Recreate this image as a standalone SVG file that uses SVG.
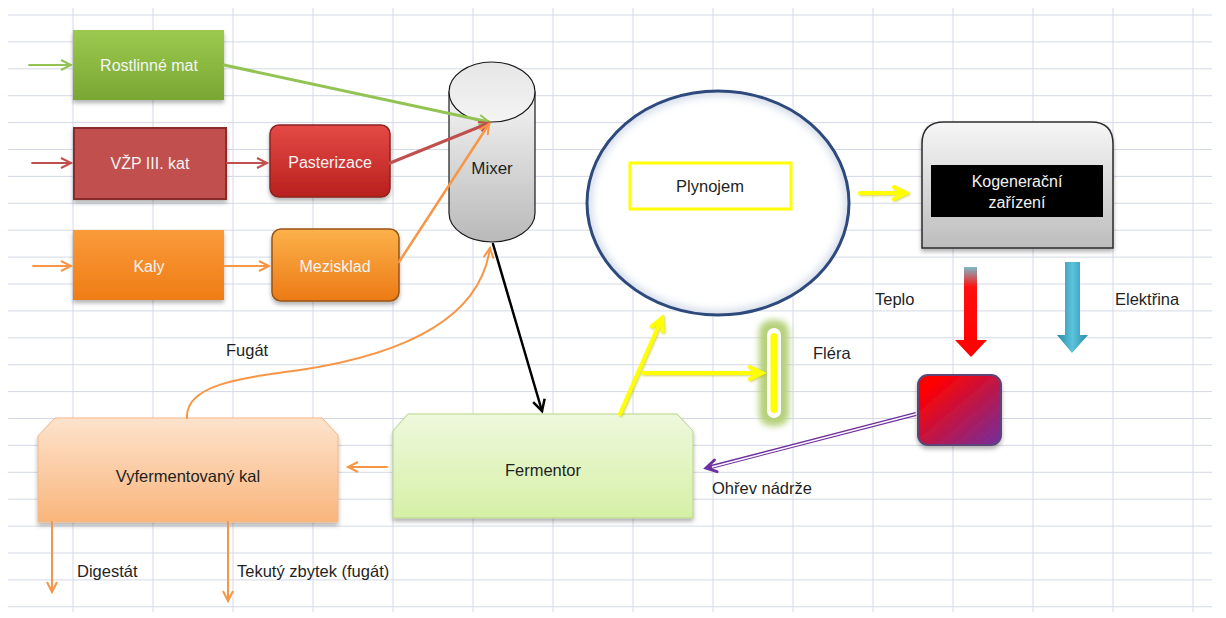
<svg xmlns="http://www.w3.org/2000/svg" width="1226" height="618" viewBox="0 0 1226 618">
<style>
.grid{stroke:#d3d9e6;stroke-width:1;fill:none}
.lbl{font-family:"Liberation Sans",Arial,sans-serif;font-size:16.5px;fill:#1f1f1f;text-anchor:middle;dominant-baseline:central}
.wt{font-family:"Liberation Sans",Arial,sans-serif;font-size:16px;fill:#f4f4f4;text-anchor:middle;dominant-baseline:central}
.free{font-family:"Liberation Sans",Arial,sans-serif;font-size:16.5px;fill:#1f1f1f;dominant-baseline:central}
</style>
<defs>
<filter id="sh" x="-10%" y="-10%" width="120%" height="130%"><feDropShadow dx="0" dy="3" stdDeviation="2" flood-color="#000" flood-opacity="0.3"/></filter>
<filter id="glow" x="-100%" y="-30%" width="300%" height="160%"><feGaussianBlur stdDeviation="3"/></filter>
<filter id="yg" filterUnits="userSpaceOnUse" x="600" y="170" width="340" height="260"><feDropShadow dx="1" dy="1" stdDeviation="1" flood-color="#b5b500" flood-opacity="0.6"/></filter>
<filter id="inner" x="-5%" y="-5%" width="110%" height="110%"><feGaussianBlur stdDeviation="4"/></filter>
<linearGradient id="gGreen" x1="0" y1="0" x2="0" y2="1"><stop offset="0" stop-color="#9cc94e"/><stop offset="1" stop-color="#78a733"/></linearGradient>
<linearGradient id="gRed" x1="0" y1="0" x2="0" y2="1"><stop offset="0" stop-color="#e54a46"/><stop offset="1" stop-color="#b8201e"/></linearGradient>
<linearGradient id="gOr" x1="0" y1="0" x2="0" y2="1"><stop offset="0" stop-color="#fa9a3a"/><stop offset="1" stop-color="#ef7d16"/></linearGradient>
<linearGradient id="gOr2" x1="0" y1="0" x2="0" y2="1"><stop offset="0" stop-color="#fcb24a"/><stop offset="1" stop-color="#ec7a15"/></linearGradient>
<linearGradient id="gCyl" x1="0" y1="0" x2="0" y2="1"><stop offset="0" stop-color="#f4f4f4"/><stop offset="1" stop-color="#b9b9b9"/></linearGradient>
<linearGradient id="gCylTop" x1="0" y1="0" x2="0" y2="1"><stop offset="0" stop-color="#e6e6e6"/><stop offset="1" stop-color="#f4f4f4"/></linearGradient>
<linearGradient id="gKog" x1="0" y1="0" x2="0" y2="1"><stop offset="0" stop-color="#f6f6f6"/><stop offset="1" stop-color="#bdbdbd"/></linearGradient>
<linearGradient id="gFer" x1="0" y1="0" x2="0" y2="1"><stop offset="0" stop-color="#eef8dc"/><stop offset="1" stop-color="#d6f0a6"/></linearGradient>
<linearGradient id="gVyf" x1="0" y1="0" x2="0" y2="1"><stop offset="0" stop-color="#fde3cc"/><stop offset="1" stop-color="#f9b57c"/></linearGradient>
<linearGradient id="gHeat" x1="0" y1="0" x2="1" y2="1"><stop offset="0.15" stop-color="#ff0000"/><stop offset="1" stop-color="#7030a0"/></linearGradient>
<linearGradient id="gTeplo" x1="0" y1="0" x2="0" y2="1"><stop offset="0" stop-color="#7fb9c8"/><stop offset="0.22" stop-color="#ff1010"/><stop offset="1" stop-color="#ff0000"/></linearGradient>
<linearGradient id="gEl" x1="0" y1="0" x2="1" y2="0"><stop offset="0" stop-color="#2a8aa6"/><stop offset="0.5" stop-color="#5cc3dc"/><stop offset="1" stop-color="#2a8aa6"/></linearGradient>
<marker id="mGreen" markerUnits="userSpaceOnUse" markerWidth="16" markerHeight="16" refX="11" refY="6" orient="auto"><path d="M1,1 L11,6 L1,11" fill="none" stroke="#92c353" stroke-width="2"/></marker>
<marker id="mRed" markerUnits="userSpaceOnUse" markerWidth="16" markerHeight="16" refX="11" refY="6" orient="auto"><path d="M1,1 L11,6 L1,11" fill="none" stroke="#c0504d" stroke-width="2"/></marker>
<marker id="mOr" markerUnits="userSpaceOnUse" markerWidth="16" markerHeight="16" refX="11" refY="6" orient="auto"><path d="M1,1 L11,6 L1,11" fill="none" stroke="#f79646" stroke-width="2"/></marker>
<marker id="mBlk" markerUnits="userSpaceOnUse" markerWidth="18" markerHeight="18" refX="12" refY="7" orient="auto"><path d="M1,1 L12,7 L1,13" fill="none" stroke="#000" stroke-width="2.5"/></marker>
<marker id="mYel" markerUnits="userSpaceOnUse" markerWidth="20" markerHeight="20" refX="14" refY="8" orient="auto"><path d="M2,2 L14,8 L2,14" fill="none" stroke="#ffff00" stroke-width="4" stroke-linecap="round"/></marker>
<marker id="mPur" markerUnits="userSpaceOnUse" markerWidth="18" markerHeight="18" refX="12" refY="8" orient="auto"><path d="M2,2 L12,8 L2,14" fill="none" stroke="#7030a0" stroke-width="3" stroke-linecap="round"/></marker>
<clipPath id="ellClip"><ellipse cx="718" cy="203" rx="131" ry="112"/></clipPath>
</defs>

<rect width="1226" height="618" fill="#ffffff"/>
<g id="grid">
<path class="grid" d="M8,15H1212M8,41.9H1212M8,68.8H1212M8,95.7H1212M8,122.6H1212M8,149.5H1212M8,176.4H1212M8,203.3H1212M8,230.2H1212M8,257.1H1212M8,284H1212M8,310.9H1212M8,337.8H1212M8,364.7H1212M8,391.6H1212M8,418.5H1212M8,445.4H1212M8,472.3H1212M8,499.2H1212M8,526.1H1212M8,553H1212M8,579.9H1212M8,606.8H1212"/>
<path class="grid" d="M73,8V612M153,8V612M233,8V612M313,8V612M393,8V612M473,8V612M553,8V612M633,8V612M713,8V612M793,8V612M873,8V612M953,8V612M1033,8V612M1113,8V612M1193,8V612"/>
</g>

<g id="rostlinne"><rect x="73" y="30" width="151" height="70" fill="url(#gGreen)" filter="url(#sh)"/><text class="wt" x="149" y="65">Rostlinné mat</text></g>
<g id="vzp"><rect x="74" y="128" width="152" height="71" fill="#c0504d" stroke="#8a2b29" stroke-width="2" filter="url(#sh)"/><text class="wt" x="150" y="163">VŽP III. kat</text></g>
<g id="pasterizace"><rect x="270" y="125" width="120" height="72" rx="9" fill="url(#gRed)" stroke="#8c2220" stroke-width="1.5" filter="url(#sh)"/><text class="wt" x="330" y="162">Pasterizace</text></g>
<g id="kaly"><rect x="73" y="230" width="151" height="70" fill="url(#gOr)" filter="url(#sh)"/><text class="wt" x="149" y="266">Kaly</text></g>
<g id="mezisklad"><rect x="272" y="229" width="127" height="72" rx="9" fill="url(#gOr2)" stroke="#9a5316" stroke-width="1.5" filter="url(#sh)"/><text class="wt" x="335" y="266">Mezisklad</text></g>

<g id="mixer">
<path d="M449,92 L449,213 A43,29 0 0 0 535,213 L535,92 Z" fill="url(#gCyl)" stroke="#1a1a1a" stroke-width="1.2"/>
<ellipse cx="492" cy="92" rx="43" ry="30" fill="url(#gCylTop)" stroke="#1a1a1a" stroke-width="1.2"/>
<text class="lbl" x="492" y="168" style="font-size:17px">Mixer</text>
</g>

<g id="plynojem">
<ellipse cx="718" cy="203" rx="131" ry="112" fill="#ffffff"/>
<ellipse cx="718" cy="203" rx="131" ry="112" fill="none" stroke="#c9d3e4" stroke-width="8" clip-path="url(#ellClip)" filter="url(#inner)"/>
<ellipse cx="718" cy="203" rx="131" ry="112" fill="none" stroke="#2e4a7d" stroke-width="3"/>
<rect x="630" y="163" width="161" height="46" fill="#ffffff" stroke="#ffff00" stroke-width="3"/>
<text class="lbl" x="710" y="186">Plynojem</text>
</g>

<g id="kogeneracni">
<path d="M922,248 L922,144 Q922,122 944,122 L1091,122 Q1113,122 1113,144 L1113,248 Z" fill="url(#gKog)" stroke="#2b2b2b" stroke-width="1.5" filter="url(#sh)"/>
<rect x="931" y="165" width="172" height="52" fill="#000000"/>
<text class="wt" x="1017" y="181">Kogenerační</text>
<text class="wt" x="1017" y="202">zařízení</text>
</g>

<g id="teplo-arrow"><path d="M964,267 L977,267 L977,340 L987,340 L971,357 L955,340 L964,340 Z" fill="url(#gTeplo)"/></g>
<g id="elektrina-arrow"><path d="M1065,262 L1080,262 L1080,335 L1088,335 L1072,353 L1057,335 L1065,335 Z" fill="url(#gEl)"/></g>

<g id="ohrev"><rect x="918" y="375" width="83" height="70" rx="10" fill="url(#gHeat)" stroke="#5d4478" stroke-width="2" filter="url(#sh)"/></g>

<g id="flera">
<rect x="759" y="320" width="30" height="106" rx="12" fill="#b5d07a" filter="url(#glow)"/>
<rect x="767" y="328" width="14" height="90" rx="7" fill="#ffffff"/>
<rect x="770.5" y="333" width="7" height="80" rx="3.5" fill="#ffff00"/>
</g>

<g id="fermentor"><path d="M393,431 L408,414 L677,414 L693,431 L693,518 L393,518 Z" fill="url(#gFer)" stroke="#b7d48a" stroke-width="1" filter="url(#sh)"/><text class="lbl" x="543" y="470">Fermentor</text></g>
<g id="vyfermentovany"><path d="M38,436 L55,418 L322,418 L338,435 L338,522 L38,522 Z" fill="url(#gVyf)" stroke="#f2b98a" stroke-width="1" filter="url(#sh)"/><text class="lbl" x="188" y="476">Vyfermentovaný kal</text></g>

<g id="connectors" fill="none" stroke-linecap="round">
<line x1="29" y1="65" x2="71" y2="65" stroke="#92c353" stroke-width="1.8" marker-end="url(#mGreen)"/>
<line x1="32" y1="163" x2="71" y2="163" stroke="#c0504d" stroke-width="1.8" marker-end="url(#mRed)"/>
<line x1="33" y1="266" x2="71" y2="266" stroke="#f79646" stroke-width="1.8" marker-end="url(#mOr)"/>
<line x1="227" y1="163" x2="267" y2="163" stroke="#c0504d" stroke-width="1.8" marker-end="url(#mRed)"/>
<line x1="224" y1="266" x2="269" y2="266" stroke="#f79646" stroke-width="1.8" marker-end="url(#mOr)"/>
<line x1="224" y1="65" x2="489" y2="122" stroke="#92c353" stroke-width="3" marker-end="url(#mGreen)"/>
<line x1="390" y1="163" x2="489" y2="123" stroke="#c0504d" stroke-width="3" marker-end="url(#mRed)"/>
<line x1="399" y1="262" x2="489" y2="124" stroke="#f79646" stroke-width="2.5" marker-end="url(#mOr)"/>
<path d="M187,418 C185,385 240,378 300,370 C400,355 480,320 490,248" stroke="#f79646" stroke-width="2" marker-end="url(#mOr)"/>
<line x1="493" y1="244" x2="542" y2="411" stroke="#000000" stroke-width="2.5" marker-end="url(#mBlk)"/>
<g filter="url(#yg)">
<line x1="620" y1="414" x2="662" y2="318" stroke="#ffff00" stroke-width="4" marker-end="url(#mYel)"/>
<line x1="643" y1="373" x2="762" y2="373" stroke="#ffff00" stroke-width="4" marker-end="url(#mYel)"/>
<line x1="860" y1="193" x2="906" y2="193" stroke="#ffff00" stroke-width="4" marker-end="url(#mYel)"/>
</g>
<line x1="916" y1="414" x2="707" y2="468" stroke="#7030a0" stroke-width="4" stroke-linecap="butt"/>
<line x1="916" y1="414" x2="712" y2="467" stroke="#ffffff" stroke-width="1.3" stroke-linecap="butt"/>
<line x1="760" y1="456" x2="706" y2="468" stroke="none" marker-end="url(#mPur)"/>
<line x1="387" y1="467" x2="348" y2="467" stroke="#f79646" stroke-width="2" marker-end="url(#mOr)"/>
<line x1="52" y1="522" x2="52" y2="592" stroke="#f79646" stroke-width="2" marker-end="url(#mOr)"/>
<line x1="228" y1="522" x2="228" y2="601" stroke="#f79646" stroke-width="2" marker-end="url(#mOr)"/>
</g>

<g id="labels">
<text class="free" x="226" y="350">Fugát</text>
<text class="free" x="875" y="299">Teplo</text>
<text class="free" x="1115" y="299">Elektřina</text>
<text class="free" x="813" y="353">Fléra</text>
<text class="free" x="712" y="488">Ohřev nádrže</text>
<text class="free" x="77" y="571">Digestát</text>
<text class="free" x="237" y="571">Tekutý zbytek (fugát)</text>
</g>
</svg>
